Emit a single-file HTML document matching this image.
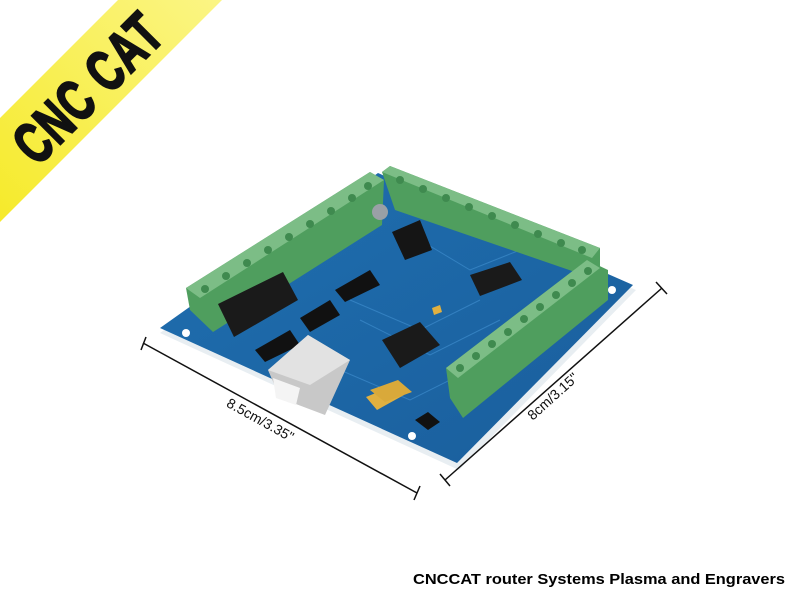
<!DOCTYPE html>
<html><head><meta charset="utf-8"><style>
html,body{margin:0;padding:0;background:#fff;width:800px;height:600px;overflow:hidden}
svg{display:block}
</style></head><body>
<svg width="800" height="600" viewBox="0 0 800 600" xmlns="http://www.w3.org/2000/svg">
<defs>
<linearGradient id="yb" x1="0" y1="1" x2="1" y2="0"><stop offset="0" stop-color="#f6ea2a"/><stop offset="1" stop-color="#fbf585"/></linearGradient>
<linearGradient id="pcb" x1="0" y1="0" x2="1" y2="1"><stop offset="0" stop-color="#1f6fb0"/><stop offset="1" stop-color="#1a5e9c"/></linearGradient>
</defs>
<!-- banner -->
<polygon points="0,118 118,0 222,0 0,222" fill="url(#yb)"/>
<text x="0" y="0" transform="translate(88,88) rotate(-45) scale(0.68,1)" text-anchor="middle" font-family="Liberation Sans, sans-serif" font-weight="bold" font-size="58" fill="#111" stroke="#111" stroke-width="2.5" dy="20" letter-spacing="2">CNC CAT</text>

<!-- PCB -->
<polygon points="160,333 459,470 636,290 380,178" fill="#e8eef2"/>
<polygon points="160,328 457,463 633,285 378,173" fill="url(#pcb)"/>
<g fill="#fff"><circle cx="186" cy="333" r="4"/><circle cx="412" cy="436" r="4"/><circle cx="612" cy="290" r="4"/></g>
<g stroke="#3d8ccc" stroke-width="1" fill="none" opacity=".7">
<path d="M350,300 L420,330 L480,300"/><path d="M360,320 L430,355 L500,320"/><path d="M420,240 L470,270 L520,250"/><path d="M340,370 L410,400 L450,380"/>
</g>
<!-- left terminal block -->
<polygon points="186,288 370,172 384,180 382,225 213,332 190,310" fill="#4f9e5e"/>
<polygon points="186,288 370,172 384,180 200,298" fill="#7cbd86"/>
<g fill="#3f8a4f">
<circle cx="205" cy="289" r="4"/><circle cx="226" cy="276" r="4"/><circle cx="247" cy="263" r="4"/><circle cx="268" cy="250" r="4"/><circle cx="289" cy="237" r="4"/><circle cx="310" cy="224" r="4"/><circle cx="331" cy="211" r="4"/><circle cx="352" cy="198" r="4"/><circle cx="368" cy="186" r="4"/>
</g>
<!-- top-right terminal block -->
<polygon points="382,172 390,166 600,248 600,268 575,272 395,210" fill="#4f9e5e"/>
<polygon points="382,172 390,166 600,248 592,258" fill="#7cbd86"/>
<g fill="#3f8a4f">
<circle cx="400" cy="180" r="4"/><circle cx="423" cy="189" r="4"/><circle cx="446" cy="198" r="4"/><circle cx="469" cy="207" r="4"/><circle cx="492" cy="216" r="4"/><circle cx="515" cy="225" r="4"/><circle cx="538" cy="234" r="4"/><circle cx="561" cy="243" r="4"/><circle cx="582" cy="250" r="4"/>
</g>
<!-- right terminal block -->
<polygon points="446,368 587,260 608,270 608,300 463,418 450,398" fill="#4f9e5e"/>
<polygon points="446,368 587,260 600,268 458,378" fill="#7cbd86"/>
<g fill="#3f8a4f">
<circle cx="460" cy="368" r="4"/><circle cx="476" cy="356" r="4"/><circle cx="492" cy="344" r="4"/><circle cx="508" cy="332" r="4"/><circle cx="524" cy="319" r="4"/><circle cx="540" cy="307" r="4"/><circle cx="556" cy="295" r="4"/><circle cx="572" cy="283" r="4"/><circle cx="588" cy="271" r="4"/>
</g>
<!-- chips -->
<polygon points="218,304 283,272 298,300 234,337" fill="#1a1a1a"/>
<polygon points="392,232 420,220 432,250 405,260" fill="#151515"/>
<polygon points="470,275 510,262 522,280 480,296" fill="#1a1a1a"/>
<polygon points="382,340 420,322 440,345 400,368" fill="#1a1a1a"/>
<polygon points="255,350 290,330 300,345 265,362" fill="#111"/>
<polygon points="300,318 330,300 340,315 310,332" fill="#111"/>
<polygon points="335,290 370,270 380,285 345,302" fill="#111"/>
<circle cx="380" cy="212" r="8" fill="#9aa0a6"/>
<polygon points="415,420 428,412 440,422 428,430" fill="#111"/>
<!-- usb -->
<polygon points="268,370 308,335 350,360 325,415 280,398" fill="#c8c8c8"/>
<polygon points="268,370 308,335 350,360 310,385" fill="#e2e2e2"/>
<polygon points="273,378 300,388 296,405 276,398" fill="#f4f4f4"/>
<!-- caps -->
<polygon points="366,397 395,385 404,395 377,410" fill="#e0b040"/>
<polygon points="370,390 398,380 412,392 385,402" fill="#d9a93a"/>
<polygon points="432,308 440,305 442,312 434,315" fill="#e0b040"/>

<!-- dimension lines -->
<g stroke="#111" stroke-width="1.5">
<line x1="143" y1="343" x2="417" y2="493"/>
<line x1="141" y1="350" x2="146" y2="337"/>
<line x1="414" y1="500" x2="420" y2="486"/>
<line x1="445" y1="480" x2="662" y2="288"/>
<line x1="440" y1="474" x2="450" y2="486"/>
<line x1="656" y1="282" x2="667" y2="294"/>
</g>
<text transform="translate(258,424) rotate(29)" text-anchor="middle" font-family="Liberation Sans, sans-serif" font-size="14" fill="#111">8.5cm/3.35"</text>
<text transform="translate(556,400) rotate(-42)" text-anchor="middle" font-family="Liberation Sans, sans-serif" font-size="14" fill="#111">8cm/3.15"</text>

<text x="413" y="584" font-family="Liberation Sans, sans-serif" font-weight="bold" font-size="15" fill="#000" textLength="372" lengthAdjust="spacingAndGlyphs">CNCCAT router Systems Plasma and Engravers</text>
</svg>
</body></html>
